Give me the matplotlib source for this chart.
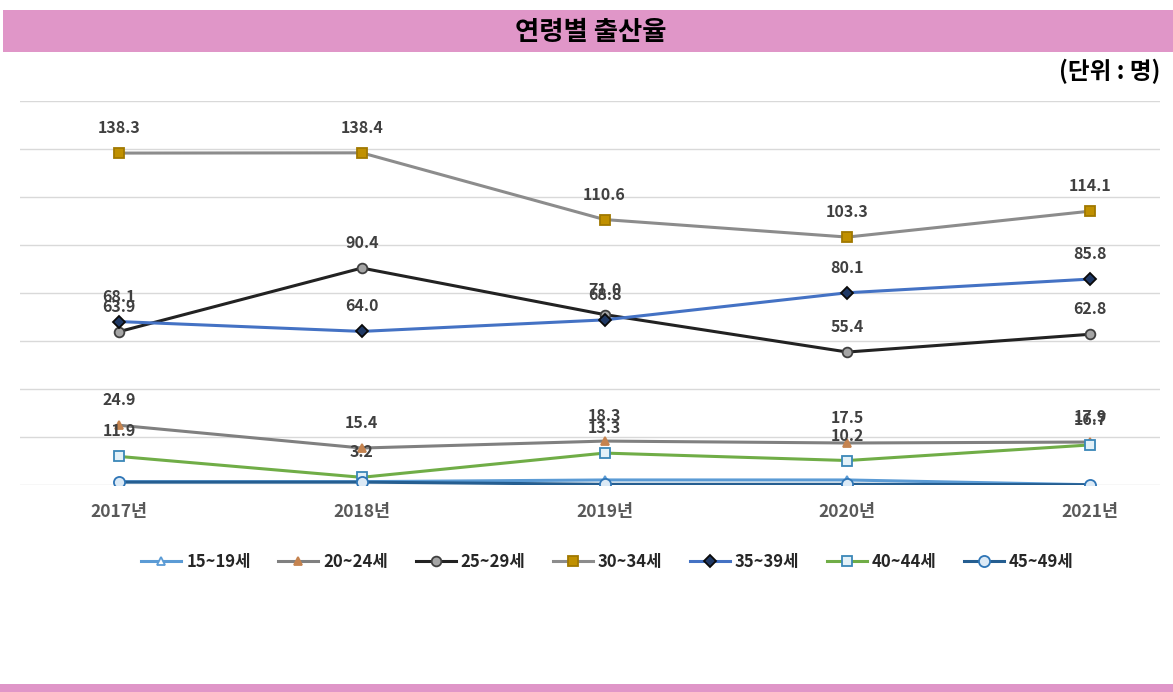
import matplotlib
matplotlib.use("Agg")
import matplotlib.pyplot as plt
from matplotlib.patches import Rectangle

plt.rcParams['font.family'] = ['Noto Sans CJK KR', 'DejaVu Sans']

years = ['2017년', '2018년', '2019년', '2020년', '2021년']
series_names = ['15~19세', '20~24세', '25~29세', '30~34세', '35~39세', '40~44세', '45~49세']
v15_19 = [1.4, 1.4, 2.1, 2.1, 0.1]
v20_24 = [24.9, 15.4, 18.3, 17.5, 17.9]
v25_29 = [63.9, 90.4, 71.0, 55.4, 62.8]
v30_34 = [138.3, 138.4, 110.6, 103.3, 114.1]
v35_39 = [68.1, 64.0, 68.8, 80.1, 85.8]
v40_44 = [11.9, 3.2, 13.3, 10.2, 16.7]
v45_49 = [1.2, 1.2, 0.3, 0.3, 0.1]
labelled = [False, True, True, True, True, True, False]

values = [v15_19, v20_24, v25_29, v30_34, v35_39, v40_44, v45_49]
styles = [
    dict(color='#5B9BD5', marker='^', mfc='white', mec='#5B9BD5', ms=6),
    dict(color='#808080', marker='^', mfc='#C5834F', mec='#C5834F', ms=6),
    dict(color='#222222', marker='o', mfc='#A5A5A5', mec='#404040', ms=7),
    dict(color='#8C8C8C', marker='s', mfc='#C09000', mec='#A07800', ms=7),
    dict(color='#4472C4', marker='D', mfc='#1F3864', mec='#0A0A0A', ms=6),
    dict(color='#70AD47', marker='s', mfc='#E3F1F8', mec='#3A87B8', ms=7),
    dict(color='#255E91', marker='o', mfc='#DCEAF6', mec='#2E75B6', ms=8),
]

fig = plt.figure(figsize=(11.73, 6.92), dpi=100)
W, H = 1173, 692

# header band and bottom band
fig.patches.append(Rectangle((3 / W, 1 - 52 / H), 1 - 3 / W, 42 / H, transform=fig.transFigure,
                             facecolor='#E096C8', edgecolor='none', zorder=0))
fig.patches.append(Rectangle((0, 0), 1, 8 / H, transform=fig.transFigure,
                             facecolor='#E096C8', edgecolor='none', zorder=0))
fig.text(0.504, 1 - 32 / H, '연령별 출산율', ha='center', va='center', fontsize=19,
         fontweight='bold', color='black')
fig.text(1160 / W, 1 - 71 / H, '(단위 : 명)', ha='right', va='center', fontsize=17,
         fontweight='bold', color='black')

ax = fig.add_axes([20 / W, 1 - 485 / H, 1140 / W, 384 / H])
x = list(range(len(years)))
for name, vals, st, lab in zip(series_names, values, styles, labelled):
    ax.plot(x, vals, label=name, lw=2.2, color=st['color'], marker=st['marker'],
            markerfacecolor=st['mfc'], markeredgecolor=st['mec'], markersize=st['ms'],
            markeredgewidth=1.3, zorder=3)
    if lab:
        for xi, v in zip(x, vals):
            ax.annotate(f'{v:.1f}', (xi, v), xytext=(0, 18), textcoords='offset points',
                        ha='center', va='center', fontsize=11.5, fontweight='bold',
                        color='#404040', zorder=4)

ax.set_ylim(0, 160)
ax.set_yticks(range(0, 161, 20))
ax.set_xlim(-0.408, 4.288)
ax.grid(axis='y', color='#D9D9D9', lw=1)
ax.set_axisbelow(True)
for s in ax.spines.values():
    s.set_visible(False)
ax.tick_params(axis='y', left=False, labelleft=False)
ax.set_xticks(x)
ax.set_xticklabels(years, fontsize=12.5, fontweight='bold', color='#595959')
ax.tick_params(axis='x', length=0, pad=13)

leg = fig.legend(loc='center', bbox_to_anchor=(0.518, 1 - 562 / H), ncol=7, frameon=False,
                 prop={'size': 12, 'weight': 'bold'}, handlelength=2.4, columnspacing=1.65,
                 handletextpad=0.3)
for t in leg.get_texts():
    t.set_color('#262626')

fig.savefig('out.png', dpi=100)
